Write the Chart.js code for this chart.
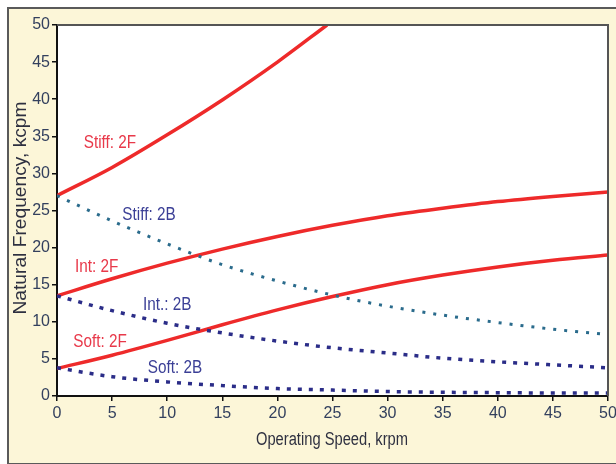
<!DOCTYPE html>
<html>
<head>
<meta charset="utf-8">
<script src="https://cdn.jsdelivr.net/npm/chart.js@4"></script>
<style>
  html, body { margin:0; padding:0; width:616px; height:464px; overflow:hidden; background:#ffffff; }
  #frame { position:absolute; left:7px; top:7px; width:640px; height:454px; background:#fcf6d8; border:2px solid #5a5a5a; }
  #wrap { position:absolute; left:0; top:0; width:616px; height:464px; }
</style>
</head>
<body>
<div id="frame"></div>
<div id="wrap"><canvas id="c" width="616" height="464"></canvas></div>
<script>
const speeds = [0, 5, 10, 15, 20, 25, 30, 35, 40, 45, 50];
const stiffSpeeds = [0, 5, 10, 15, 20, 24.5];
const stiff2F = [27, 30.8, 35.2, 39.9, 45, 50];
const stiff2B = [27, 23.6, 20.5, 17.7, 15.5, 13.6, 12.1, 10.9, 9.9, 9.0, 8.3];
const int2F   = [13.5, 15.8, 17.9, 19.8, 21.5, 23.0, 24.3, 25.3, 26.2, 26.9, 27.5];
const int2B   = [13.5, 11.5, 9.8, 8.5, 7.4, 6.5, 5.8, 5.1, 4.6, 4.2, 3.8];
const soft2F  = [3.7, 5.5, 7.5, 9.6, 11.6, 13.4, 15.0, 16.3, 17.4, 18.3, 19.0];
const soft2B  = [3.8, 2.6, 1.9, 1.4, 1.0, 0.8, 0.6, 0.5, 0.45, 0.4, 0.4];
const xTicks = [0, 5, 10, 15, 20, 25, 30, 35, 40, 45, 50];
const yTicks = [0, 5, 10, 15, 20, 25, 30, 35, 40, 45, 50];
const curveLabels = [
  { text: "Stiff: 2F", x: 4.8, y: 34.1, color: "#e8394a" },
  { text: "Stiff: 2B", x: 8.35, y: 24.4, color: "#3b3f96" },
  { text: "Int: 2F", x: 3.6, y: 17.4, color: "#e8394a" },
  { text: "Int.: 2B", x: 10.0, y: 12.3, color: "#3b3f96" },
  { text: "Soft: 2F", x: 3.9, y: 7.3, color: "#e8394a" },
  { text: "Soft: 2B", x: 10.7, y: 3.8, color: "#3b3f96" }
];
const xTitle = "Operating Speed, krpm";
const yTitle = "Natural Frequency, kcpm";

const FONT = '"Liberation Sans", Arial, sans-serif';
const pts = (xs, ys) => xs.map((x, i) => ({ x: x, y: ys[i] }));

const RED = "#ee2a2a", TEAL = "#2a6b8c", NAVY = "#2b2d88";

const solid = (label, data) => ({ label, data, borderColor: RED, borderWidth: 3.5, pointRadius: 0, cubicInterpolationMode: 'monotone', fill: false });
const dotted = (label, data, color, dash, w) => ({ label, data, borderColor: color, borderWidth: w, borderDash: dash, borderCapStyle: 'butt', pointRadius: 0, cubicInterpolationMode: 'monotone', fill: false });

function narrowText(ctx, text, x, y, sx) {
  ctx.save();
  ctx.translate(x, y);
  ctx.scale(sx, 1);
  ctx.fillText(text, 0, 0);
  ctx.restore();
}

const decor = {
  id: 'decor',
  beforeDraw(chart) {
    const { ctx, chartArea: a } = chart;
    ctx.save();
    ctx.fillStyle = '#ffffff';
    ctx.fillRect(a.left, a.top, a.right - a.left, a.bottom - a.top);
    ctx.restore();
  },
  afterDatasetsDraw(chart) {
    const { ctx, scales } = chart;
    ctx.save();
    ctx.font = '18px ' + FONT;
    ctx.textAlign = 'center';
    ctx.textBaseline = 'middle';
    curveLabels.forEach(l => {
      ctx.fillStyle = l.color;
      narrowText(ctx, l.text, scales.x.getPixelForValue(l.x), scales.y.getPixelForValue(l.y), 0.85);
    });
    ctx.restore();
  },
  afterDraw(chart) {
    const { ctx, chartArea: a } = chart;
    ctx.save();
    ctx.strokeStyle = '#555555';
    ctx.lineWidth = 2;
    ctx.beginPath();
    ctx.moveTo(a.left, a.top);
    ctx.lineTo(a.right, a.top);
    ctx.lineTo(a.right, a.bottom);
    ctx.stroke();
    // axis titles
    ctx.fillStyle = '#2e3040';
    ctx.font = '18px ' + FONT;
    ctx.textAlign = 'center';
    ctx.textBaseline = 'middle';
    let w = ctx.measureText(xTitle).width;
    narrowText(ctx, xTitle, 332, 440, 152 / w);
    w = ctx.measureText(yTitle).width;
    ctx.save();
    ctx.translate(21, 208);
    ctx.rotate(-Math.PI / 2);
    ctx.scale(213 / w, 1);
    ctx.fillText(yTitle, 0, 0);
    ctx.restore();
    ctx.restore();
  }
};

new Chart(document.getElementById('c'), {
  type: 'line',
  data: {
    datasets: [
      dotted('Stiff: 2B', pts(speeds, stiff2B), TEAL, [3, 8], 3),
      dotted('Int.: 2B', pts(speeds, int2B), NAVY, [4, 7], 3.5),
      dotted('Soft: 2B', pts(speeds, soft2B), NAVY, [4, 7], 3.5),
      solid('Stiff: 2F', pts(stiffSpeeds, stiff2F)),
      solid('Int: 2F', pts(speeds, int2F)),
      solid('Soft: 2F', pts(speeds, soft2F))
    ]
  },
  options: {
    responsive: false,
    animation: false,
    layout: { padding: { left: 0, top: 25, right: 8, bottom: 0 } },
    plugins: { legend: { display: false }, tooltip: { enabled: false } },
    scales: {
      x: {
        type: 'linear', min: 0, max: 50,
        afterBuildTicks: s => { s.ticks = xTicks.map(v => ({ value: v })); },
        afterFit: s => { s.height = 68; s.paddingRight = 0; s.paddingLeft = 0; },
        ticks: { font: { size: 16, family: FONT }, color: '#33405e', padding: 3, maxRotation: 0 },
        grid: { drawOnChartArea: false, drawTicks: true, tickLength: 5, color: '#111111', lineWidth: 1.5 },
        border: { color: '#111111', width: 2 }
      },
      y: {
        type: 'linear', min: 0, max: 50,
        afterBuildTicks: s => { s.ticks = yTicks.map(v => ({ value: v })); },
        afterFit: s => { s.width = 57; s.paddingTop = 0; s.paddingBottom = 0; },
        ticks: { font: { size: 16, family: FONT }, color: '#33405e', padding: 2 },
        grid: { drawOnChartArea: false, drawTicks: true, tickLength: 5, color: '#111111', lineWidth: 1.5 },
        border: { color: '#111111', width: 2 }
      }
    }
  },
  plugins: [decor]
});
</script>
</body>
</html>
